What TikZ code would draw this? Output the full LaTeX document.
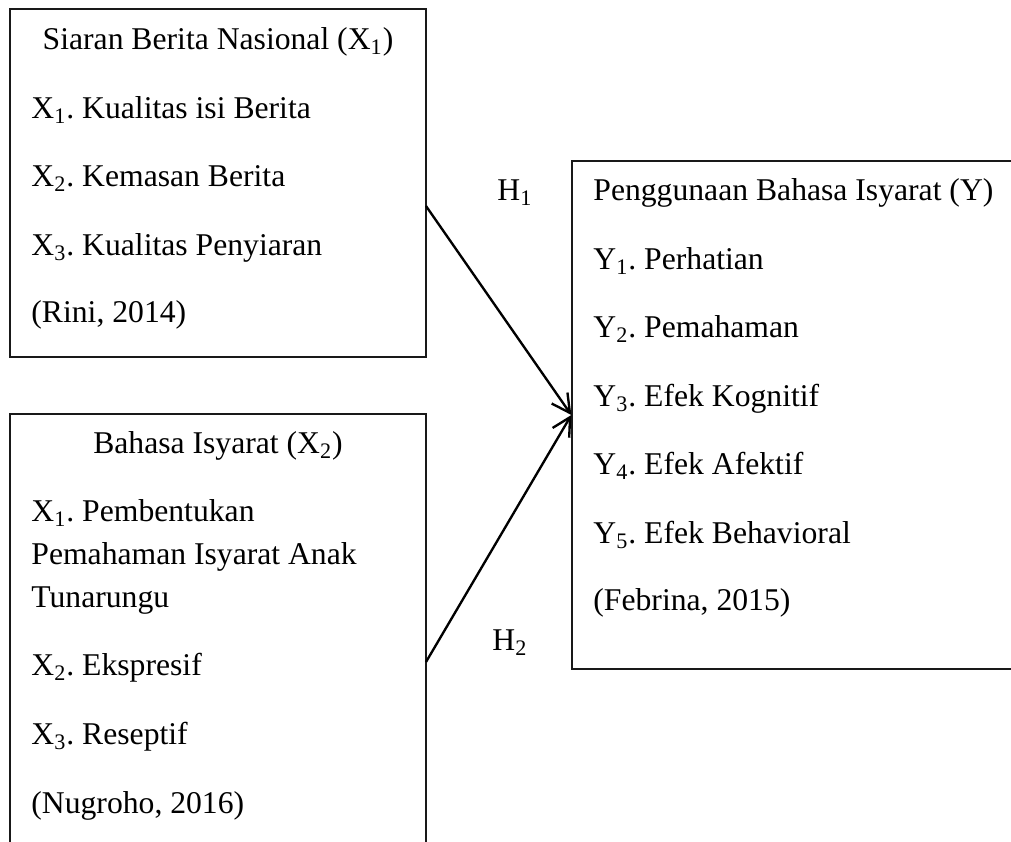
\documentclass[tikz,border=0pt]{standalone}
\usepackage{fontspec}
\setmainfont{Liberation Serif}
\usetikzlibrary{arrows.meta,fit}
\frenchspacing

\begin{document}
\begin{tikzpicture}[x=0.4675pt, y=-0.4675pt,
    box/.style={draw=black!90, line width=0.6pt, inner sep=0pt},
    txt/.style={anchor=base west, inner sep=0pt, font=\fontsize{14.8}{17}\selectfont},
    ttl/.style={anchor=base, inner sep=0pt, font=\fontsize{14.8}{17}\selectfont},
    hyp/.style={-{Straight Barb[length=8.5pt, width=9pt]}, line width=1.1pt}]
    \useasboundingbox (0,0) rectangle (1011,842);
    \clip (0,0) rectangle (1011,842);

    % Siaran Berita Nasional
    \node[box, fit={(10,9) (426,357)}] (sbn) {};
    \node[ttl] (sbnttl) at (218,50) {Siaran Berita Nasional (X\textsubscript{1})};
    \node[txt] (sbna) at (31,118.5) {X\textsubscript{1}. Kualitas isi Berita};
    \node[txt] (sbnb) at (31,187) {X\textsubscript{2}. Kemasan Berita};
    \node[txt] (sbnc) at (31,255.5) {X\textsubscript{3}. Kualitas Penyiaran};
    \node[txt] (sbnsrc) at (31,323) {(Rini, 2014)};

    % Bahasa Isyarat
    \node[box, fit={(10,414) (426,900)}] (bis) {};
    \node[ttl] (bisttl) at (218,454) {Bahasa Isyarat (X\textsubscript{2})};
    \node[txt] (bisa) at (31,522) {X\textsubscript{1}. Pembentukan};
    \node[txt] (bisa2) at (31,565) {Pemahaman Isyarat Anak};
    \node[txt] (bisa3) at (31,608) {Tunarungu};
    \node[txt] (bisb) at (31,676) {X\textsubscript{2}. Ekspresif};
    \node[txt] (bisc) at (31,745) {X\textsubscript{3}. Reseptif};
    \node[txt] (bissrc) at (31,814) {(Nugroho, 2016)};

    % Penggunaan Bahasa Isyarat
    \node[box, fit={(572,161) (1060,669)}] (pbi) {};
    \node[txt] (pbittl) at (593,201) {Penggunaan Bahasa Isyarat (Y)};
    \node[txt] (pbia) at (593,269.5) {Y\textsubscript{1}. Perhatian};
    \node[txt] (pbib) at (593,338) {Y\textsubscript{2}. Pemahaman};
    \node[txt] (pbic) at (593,406.5) {Y\textsubscript{3}. Efek Kognitif};
    \node[txt] (pbid) at (593,475) {Y\textsubscript{4}. Efek Afektif};
    \node[txt] (pbie) at (593,543.5) {Y\textsubscript{5}. Efek Behavioral};
    \node[txt] (pbisrc) at (593,611) {(Febrina, 2015)};

    % Hipotesis
    \coordinate (sbnout) at (426,206);
    \coordinate (bisout) at (426,662);
    \draw[hyp] (sbnout) -- (pbi.west);
    \draw[hyp] (bisout) -- (pbi.west);
    \node[txt] (hone) at (497,201) {H\textsubscript{1}};
    \node[txt] (htwo) at (492,651) {H\textsubscript{2}};
\end{tikzpicture}
\end{document}
